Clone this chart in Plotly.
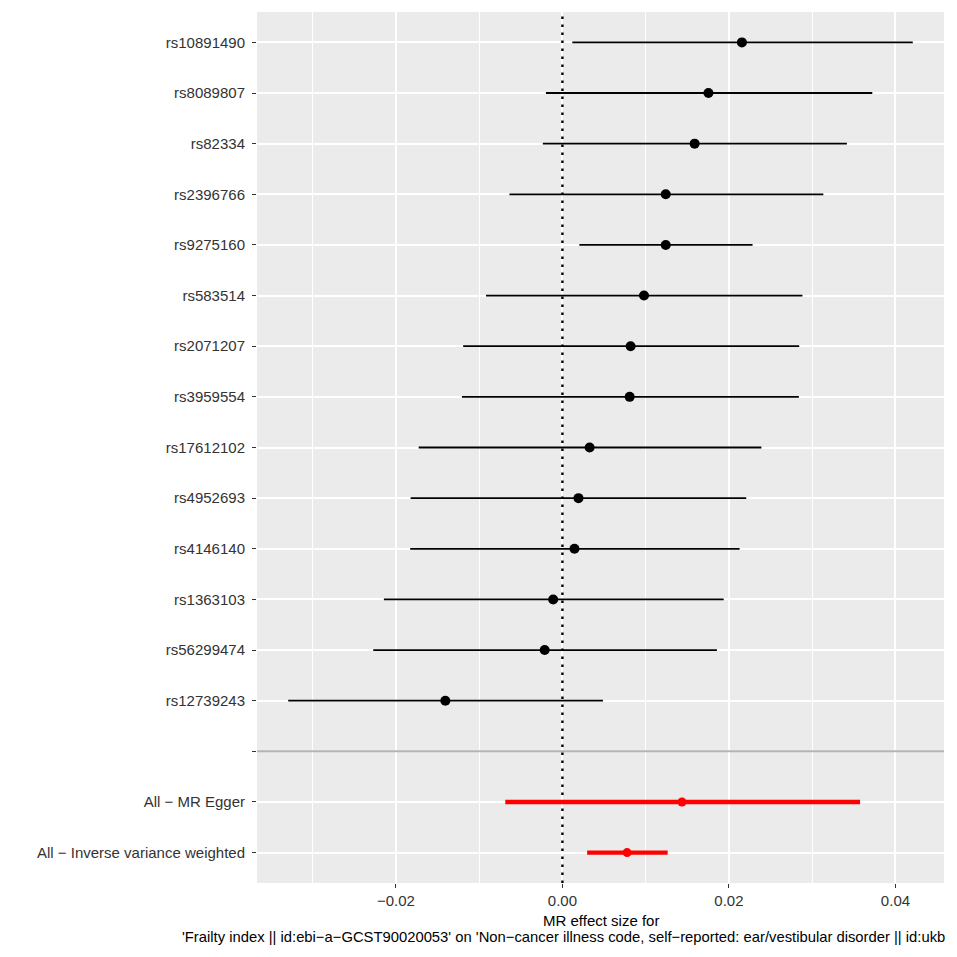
import plotly.graph_objects as go

# ---- data (top to bottom) ----
labels = ["rs10891490", "rs8089807", "rs82334", "rs2396766", "rs9275160", "rs583514",
          "rs2071207", "rs3959554", "rs17612102", "rs4952693", "rs4146140", "rs1363103",
          "rs56299474", "rs12739243", "", "All − MR Egger", "All − Inverse variance weighted"]
b = [0.02156, 0.01754, 0.01588, 0.01241, 0.01241, 0.00980, 0.00819, 0.00808, 0.00327,
     0.00193, 0.00145, -0.00111, -0.00213, -0.01406, None, 0.01436, 0.00777]
lo = [0.00119, -0.00198, -0.00235, -0.00636, 0.00204, -0.00918, -0.01192, -0.01207, -0.01726,
      -0.01823, -0.01828, -0.02144, -0.02272, -0.03293, None, -0.00686, 0.00297]
hi = [0.04208, 0.03722, 0.03417, 0.03134, 0.02284, 0.02883, 0.02844, 0.02840, 0.02390,
      0.02208, 0.02128, 0.01937, 0.01856, 0.00487, None, 0.03575, 0.01264]
is_summary = [False] * 14 + [False, True, True]

x_title_1 = "MR effect size for"
x_title_2 = ("'Frailty index || id:ebi−a−GCST90020053' on 'Non−cancer illness code, "
             "self−reported: ear/vestibular disorder || id:ukb")
x_ticks = [-0.02, 0.0, 0.02, 0.04]
x_ticktext = ["−0.02", "0.00", "0.02", "0.04"]
null_effect = 0.0

n = len(labels)
ypos = [n - i for i in range(n)]
sep_y = ypos[labels.index("")]
x_range = [-0.03668, 0.04583]
y_range = [0.4, n + 0.6]

def subset(flag):
    idx = [i for i in range(n) if b[i] is not None and is_summary[i] == flag]
    return ([b[i] for i in idx], [ypos[i] for i in idx],
            [hi[i] - b[i] for i in idx], [b[i] - lo[i] for i in idx])

FONT = "Liberation Sans, Arial, sans-serif"
fig = go.Figure()

# grey separator between SNP rows and summary rows
fig.add_trace(go.Scatter(
    x=x_range, y=[sep_y, sep_y], mode="lines",
    line=dict(color="#B3B3B3", width=2), cliponaxis=True,
    showlegend=False, hoverinfo="skip"))
# dotted null-effect line
fig.add_trace(go.Scatter(
    x=[null_effect, null_effect], y=y_range, mode="lines",
    line=dict(color="black", width=2.4, dash="2.4px,5.6px"),
    showlegend=False, hoverinfo="skip"))

sx, sy, sp, sm = subset(False)
fig.add_trace(go.Scatter(
    x=sx, y=sy, mode="markers",
    marker=dict(color="black", size=10),
    error_x=dict(type="data", symmetric=False, array=sp, arrayminus=sm,
                 width=0, thickness=1.8, color="black"),
    showlegend=False, hoverinfo="skip"))

mx, my, mp, mm = subset(True)
fig.add_trace(go.Scatter(
    x=mx, y=my, mode="markers",
    marker=dict(color="red", size=9),
    error_x=dict(type="data", symmetric=False, array=mp, arrayminus=mm,
                 width=0, thickness=4.3, color="red"),
    showlegend=False, hoverinfo="skip"))

# page body has an 8px offset; compensate so the panel sits at x 257-944, y 12-883
OFF = 8
L, T = 257 - OFF, 12 - OFF
W = H = 957
pw = 944 - 257
ph = 883 - 12
R = W - L - pw
B = H - T - ph

fig.update_layout(
    width=W, height=H,
    margin=dict(l=L, r=R, t=T, b=B, pad=0),
    paper_bgcolor="white", plot_bgcolor="#EBEBEB",
    font=dict(family=FONT, size=15, color="#333333"),
    xaxis=dict(range=x_range, tickvals=x_ticks, ticktext=x_ticktext,
               showgrid=True, gridcolor="white", gridwidth=2, zeroline=False,
               ticks="outside", ticklen=4, tickwidth=1.2, tickcolor="#333333",
               tickfont=dict(size=15, color="#333333"), showline=False,
               minor=dict(dtick=0.01, tick0=0, showgrid=True, gridcolor="white",
                          gridwidth=1, ticks="")),
    yaxis=dict(range=y_range, tickvals=ypos, ticktext=labels,
               showgrid=True, gridcolor="white", gridwidth=2, zeroline=False,
               ticks="outside", ticklen=4, tickwidth=1.2, tickcolor="#333333",
               ticklabelstandoff=4,
               tickfont=dict(size=15, color="#333333"), showline=False),
    annotations=[
        dict(text=x_title_1, xref="paper", yref="paper", x=0.5, y=(883 - 920) / ph,
             xanchor="center", yanchor="middle", showarrow=False,
             font=dict(family=FONT, size=15, color="black")),
        dict(text=x_title_2, xref="paper", yref="paper", x=(180 - 257) / pw, y=(883 - 937) / ph,
             xanchor="left", yanchor="middle", showarrow=False,
             font=dict(family=FONT, size=14.8, color="black")),
    ],
)

fig.write_html("out.html")
